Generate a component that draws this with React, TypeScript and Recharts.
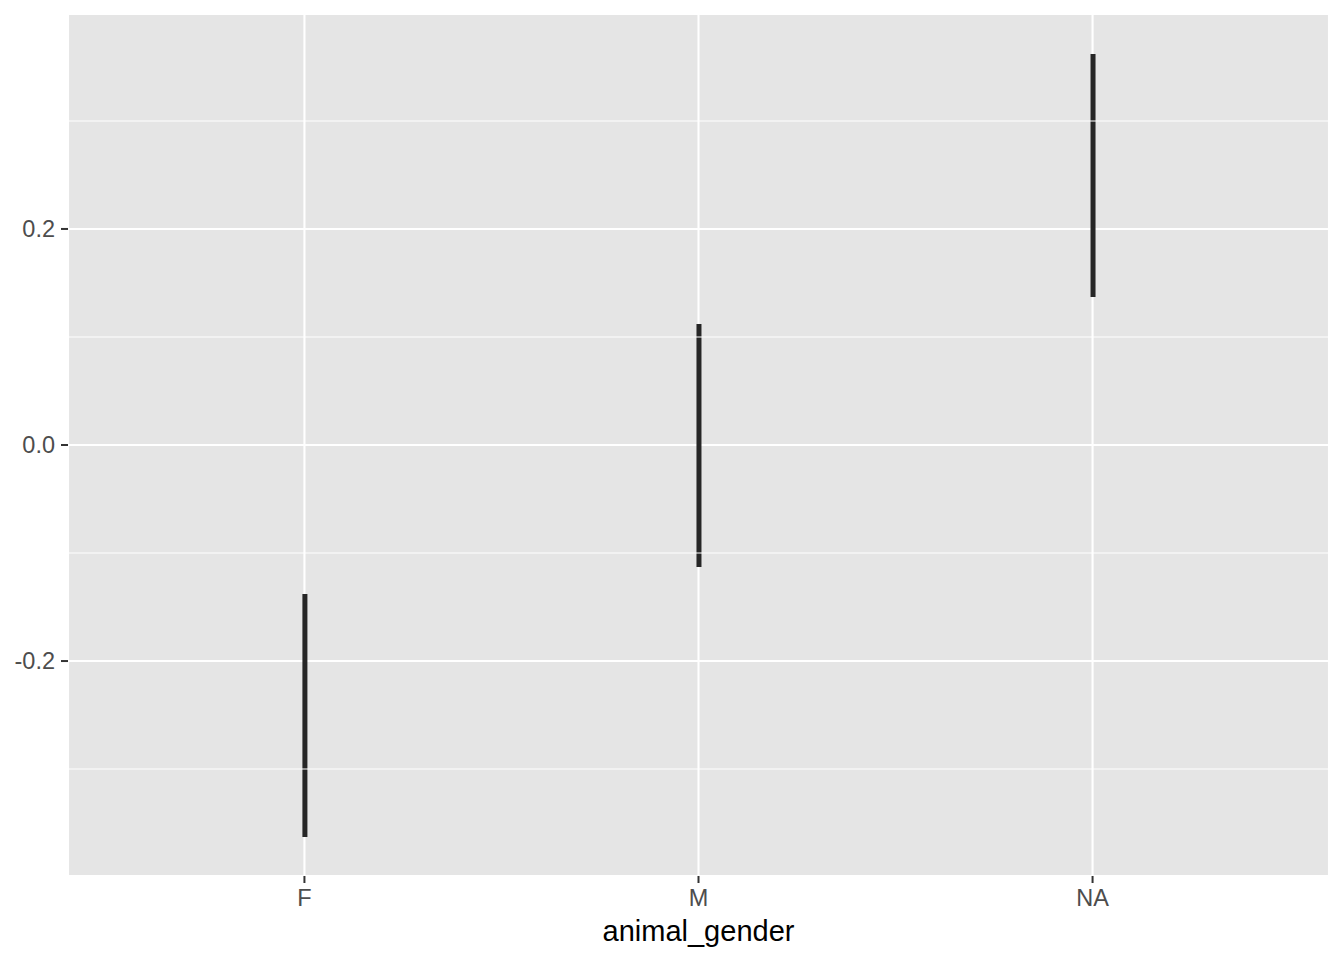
import {
  Bar,
  CartesianGrid,
  ComposedChart,
  Label,
  ReferenceLine,
  XAxis,
  YAxis,
} from "recharts";

const categories = ["F", "M", "NA"];
const lower = [-0.363, -0.113, 0.137];
const upper = [-0.138, 0.112, 0.362];
const yTicks = [-0.2, 0, 0.2];
const yMinor = [-0.3, -0.1, 0.1, 0.3];

const data = categories.map((c, i) => ({
  x: i + 1,
  name: c,
  range: [lower[i], upper[i]],
}));

const tickStyle = { fontSize: 23.5, fill: "#4d4d4d" };

export default function App() {
  return (
    <div style={{ position: "absolute", left: 0, top: 0, width: 1344, height: 960, background: "#fff" }}>
      <ComposedChart
        width={1344}
        height={960}
        data={data}
        margin={{ top: 14, right: 15, bottom: 0, left: 0 }}
        style={{ fontFamily: "'Liberation Sans', Arial, sans-serif" }}
      >
        <CartesianGrid stroke="#ffffff" strokeWidth={2.1} fill="#e5e5e5" fillOpacity={1} />
        {yMinor.map((v) => (
          <ReferenceLine key={v} y={v} stroke="#ffffff" strokeWidth={1.1} />
        ))}
        <XAxis
          type="number"
          dataKey="x"
          domain={[0.4, 3.6]}
          ticks={[1, 2, 3]}
          tickFormatter={(v: number) => categories[v - 1] ?? ""}
          height={84}
          axisLine={false}
          tickSize={7}
          tickMargin={6}
          tickLine={{ stroke: "#333333", strokeWidth: 2 }}
          tick={tickStyle}
          allowDataOverflow
        >
          <Label value="animal_gender" position="insideBottom" offset={19} fontSize={29} fill="#000000" />
        </XAxis>
        <YAxis
          type="number"
          domain={[-0.399, 0.399]}
          ticks={yTicks}
          tickFormatter={(v: number) => v.toFixed(1)}
          width={68}
          axisLine={false}
          tickSize={7}
          tickMargin={6}
          tickLine={{ stroke: "#333333", strokeWidth: 2 }}
          tick={tickStyle}
          allowDataOverflow
        />
        <Bar dataKey="range" fill="#262626" barSize={5} isAnimationActive={false} />
      </ComposedChart>
    </div>
  );
}
